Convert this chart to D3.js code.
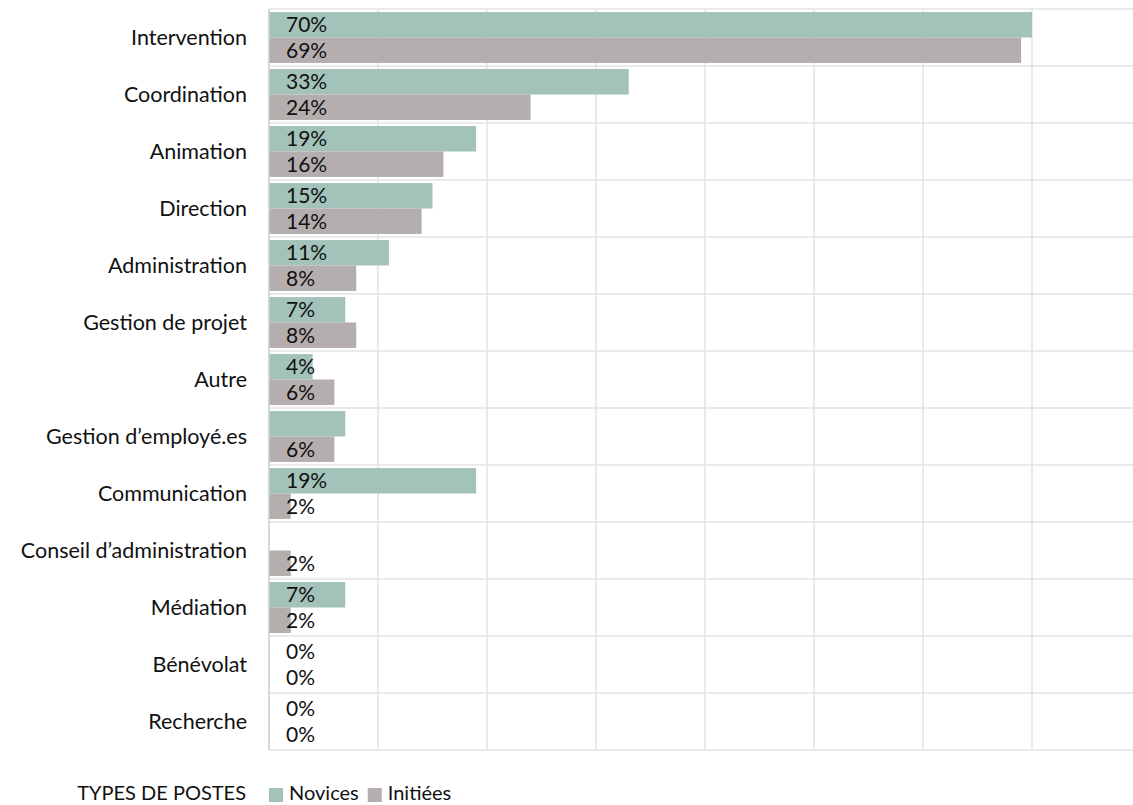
<!DOCTYPE html>
<html>
<head>
  <meta charset="utf-8">
  <script src="https://d3js.org/d3.v7.min.js"></script>
  <style>
    body { margin: 0; background: #fff; }
    text { font-family: Lato, "Open Sans", sans-serif; fill: #111; }
    .grid line { stroke: #e3e3e3; stroke-width: 1.5px; }
  </style>
</head>
<body>
  <svg id="chart" width="1133" height="805"></svg>
  <script>
    // Categories top to bottom
    const categories = ["Intervention", "Coordination", "Animation", "Direction", "Administration",
      "Gestion de projet", "Autre", "Gestion d\u2019employé.es", "Communication",
      "Conseil d\u2019administration", "Médiation", "Bénévolat", "Recherche"];
    // Shares in percent
    const novices = [70, 33, 19, 15, 11, 7, 4, 7, 19, 0, 7, 0, 0];
    const initiees = [69, 24, 16, 14, 8, 8, 6, 6, 2, 2, 2, 0, 0];
    // Data labels as shown (empty = no label)
    const novicesLabels = ["70%", "33%", "19%", "15%", "11%", "7%", "4%", "", "19%", "", "7%", "0%", "0%"];
    const initieesLabels = ["69%", "24%", "16%", "14%", "8%", "8%", "6%", "6%", "2%", "2%", "2%", "0%", "0%"];
    const seriesNames = ["Novices", "Initiées"];
    const legendTitle = "TYPES DE POSTES";
    const xTicks = [0, 10, 20, 30, 40, 50, 60, 70, 80];

    const colors = { "Novices": "#a2c2ba", "Initiées": "#b4aeae" };

    const svg = d3.select("#chart");
    const margin = { left: 269, top: 9 };
    const plotBottom = 750;

    const x = d3.scaleLinear().domain([0, 80]).range([margin.left, margin.left + 8 * 109]);
    const y = d3.scaleBand().domain(categories).range([margin.top, plotBottom]).paddingInner(0).paddingOuter(0);
    const sub = d3.scaleBand().domain(seriesNames).range([0, y.bandwidth()]).paddingOuter(0.12).paddingInner(0);

    const rows = categories.map((c, i) => ({
      cat: c,
      vals: [
        { s: "Novices", v: novices[i], label: novicesLabels[i] },
        { s: "Initiées", v: initiees[i], label: initieesLabels[i] }
      ]
    }));

    // Grid: verticals at ticks, horizontals at band edges
    const grid = svg.append("g").attr("class", "grid");
    grid.selectAll("line.v").data(xTicks).join("line").attr("class", "v")
      .attr("x1", d => x(d)).attr("x2", d => x(d))
      .attr("y1", margin.top).attr("y2", plotBottom);
    const edges = categories.map(c => y(c)).concat([plotBottom]);
    grid.selectAll("line.h").data(edges).join("line").attr("class", "h")
      .attr("x1", x(0)).attr("x2", 1133)
      .attr("y1", d => d).attr("y2", d => d);

    // Bars
    const groups = svg.append("g").selectAll("g.row").data(rows).join("g").attr("class", "row")
      .attr("transform", d => `translate(0,${y(d.cat)})`);

    groups.selectAll("rect").data(d => d.vals).join("rect")
      .attr("x", x(0))
      .attr("y", d => sub(d.s))
      .attr("width", d => x(d.v) - x(0))
      .attr("height", sub.bandwidth())
      .attr("fill", d => colors[d.s]);

    groups.selectAll("text.val").data(d => d.vals.filter(v => v.label)).join("text").attr("class", "val")
      .attr("x", x(0) + 17)
      .attr("y", d => sub(d.s) + sub.bandwidth() / 2)
      .attr("dy", "0.36em")
      .style("font-size", "21px")
      .text(d => d.label);

    // Left axis line
    svg.append("line").attr("x1", x(0)).attr("x2", x(0))
      .attr("y1", margin.top).attr("y2", plotBottom)
      .attr("stroke", "#d0d0d0").attr("stroke-width", 1.5);

    // Category labels
    svg.append("g").selectAll("text.cat").data(categories).join("text").attr("class", "cat")
      .attr("x", 247)
      .attr("y", d => y(d) + y.bandwidth() / 2)
      .attr("dy", "0.36em")
      .attr("text-anchor", "end")
      .style("font-size", "21.5px")
      .text(d => d);

    // Legend
    const legend = svg.append("g").attr("transform", "translate(0,800)");
    legend.append("text").attr("x", 246).attr("text-anchor", "end")
      .style("font-size", "20px").text(legendTitle);
    let lx = 269;
    seriesNames.forEach(s => {
      legend.append("rect").attr("x", lx).attr("y", -12).attr("width", 14).attr("height", 14)
        .attr("fill", colors[s]);
      const t = legend.append("text").attr("x", lx + 20).attr("y", 0)
        .style("font-size", "20px").text(s);
      lx += 20 + t.node().getComputedTextLength() + 9;
    });
  </script>
</body>
</html>
